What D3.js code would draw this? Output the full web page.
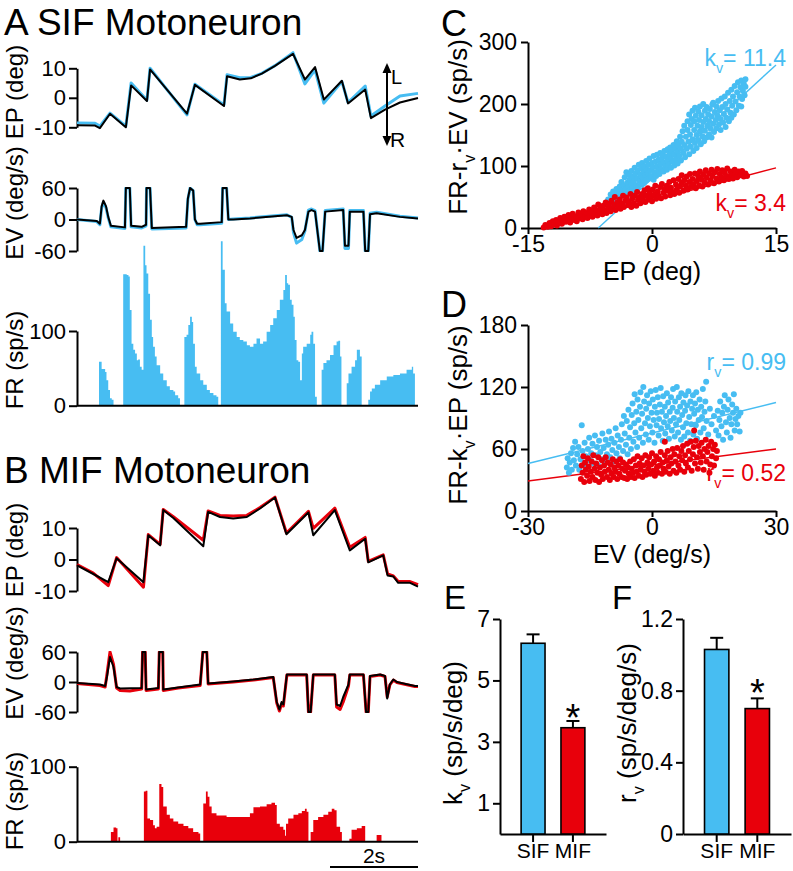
<!DOCTYPE html>
<html><head><meta charset="utf-8">
<script src="https://cdn.jsdelivr.net/npm/d3@7"></script>
<style>body{margin:0;background:#fff}</style>
</head><body>
<script>
// ---------------- DATA ----------------
// time in s, eye position in deg, eye velocity in deg/s, firing rate in sp/s
const epSif = [[0,-9.3],[0.41,-9.4],[0.52,-10.3],[0.75,-5.4],[1.11,-10.0],[1.23,4.2],[1.59,-1.1],[1.66,9.6],[2.5,-5.4],[2.68,4.4],[3.34,-2.8],[3.41,7.3],[3.7,6.2],[3.95,6.6],[4.2,8.2],[4.5,10.8],[4.91,14.9],[5.18,6.2],[5.41,10.4],[5.61,-0.6],[6.02,5.8],[6.16,-1.9],[6.55,2.8],[6.68,-6.9],[7.0,-4.0],[7.34,-1.6],[7.75,-0.1]];
const epSifFit = [[0,-8.5],[0.41,-8.6],[0.52,-9.6],[0.75,-5.2],[1.11,-9.6],[1.23,5.0],[1.59,-0.8],[1.66,10.0],[2.5,-5.8],[2.68,4.6],[3.34,-2.4],[3.41,7.8],[3.7,6.8],[3.95,6.9],[4.2,8.3],[4.5,10.9],[4.91,15.3],[5.18,4.7],[5.41,9.5],[5.61,-1.8],[6.02,5.5],[6.16,-1.6],[6.55,4.0],[6.68,-6.2],[7.0,-2.8],[7.34,0.6],[7.75,1.5]];
const evSif = [[0,0],[0.45,-3],[0.52,-8],[0.56,25],[0.60,36],[0.66,25],[0.71,5],[0.77,-12],[1.09,-15],[1.11,60],[1.20,60],[1.23,-12],[1.47,-14],[1.57,-10],[1.58,60],[1.66,60],[1.70,-16],[2.48,-14],[2.52,40],[2.57,60],[2.64,55],[2.68,0],[2.73,-8],[2.80,-8],[3.29,-5],[3.31,60],[3.40,60],[3.44,0],[3.55,0],[3.93,2],[4.77,8],[4.88,5],[4.92,-20],[4.99,-35],[5.11,-30],[5.18,-20],[5.26,15],[5.33,18],[5.41,15],[5.52,-60],[5.58,-60],[5.64,15],[6.05,18],[6.09,-50],[6.17,-50],[6.20,15],[6.51,15],[6.55,-60],[6.62,-60],[6.66,10],[6.81,12],[7.34,5],[7.75,2]];
const evSifFit = [[0,0],[0.45,-4],[0.52,-10],[0.56,22],[0.60,33],[0.66,22],[0.71,3],[0.77,-14],[1.09,-17],[1.11,60],[1.20,60],[1.23,-14],[1.47,-16],[1.57,-12],[1.58,60],[1.66,60],[1.70,-18],[2.48,-16],[2.52,38],[2.57,60],[2.64,55],[2.68,0],[2.73,-10],[2.80,-10],[3.29,-7],[3.31,60],[3.40,60],[3.44,0],[3.55,1],[3.93,3],[4.77,9],[4.88,4],[4.92,-25],[4.99,-45],[5.11,-38],[5.18,-22],[5.26,18],[5.33,20],[5.41,17],[5.52,-60],[5.58,-60],[5.64,17],[6.05,20],[6.09,-55],[6.17,-55],[6.20,17],[6.51,17],[6.55,-60],[6.62,-60],[6.66,12],[6.81,14],[7.34,6],[7.75,3]];
const frSif = [[0,0],
 [0.50,59],[0.56,49],[0.64,45],[0.67,34],[0.71,21],[0.75,10],[0.79,8],[0.83,0],
 [1.05,176],[1.13,175],[1.17,173],[1.20,128],[1.24,83],[1.28,75],[1.32,70],[1.36,61],[1.39,62],[1.43,52],[1.47,48],[1.51,214],[1.55,188],[1.58,177],[1.62,150],[1.66,115],[1.70,92],[1.73,79],[1.77,66],[1.81,54],[1.89,43],[1.96,34],[2.04,26],[2.11,21],[2.19,19],[2.23,14],[2.30,10],[2.34,0],
 [2.44,92],[2.49,95],[2.53,108],[2.57,119],[2.61,112],[2.64,83],[2.68,52],[2.72,43],[2.80,34],[2.87,28],[2.95,21],[3.02,17],[3.10,14],[3.17,12],[3.21,0],
 [3.27,220],[3.31,182],[3.36,137],[3.40,126],[3.48,110],[3.55,99],[3.63,92],[3.70,88],[3.78,86],[3.86,81],[3.93,79],[4.01,83],[4.08,90],[4.16,83],[4.23,86],[4.31,99],[4.39,108],[4.46,117],[4.54,128],[4.61,142],[4.69,155],[4.73,175],[4.77,164],[4.80,162],[4.84,142],[4.88,135],[4.92,119],[4.95,88],[4.99,61],[5.03,59],[5.07,34],[5.11,70],[5.14,79],[5.22,83],[5.30,95],[5.33,99],[5.37,83],[5.41,12],[5.45,0],
 [5.56,48],[5.60,57],[5.67,61],[5.75,68],[5.83,81],[5.90,86],[5.94,87],[5.98,66],[6.01,0],
 [6.13,30],[6.17,43],[6.24,52],[6.32,61],[6.36,75],[6.39,75],[6.43,66],[6.47,0],
 [6.62,8],[6.66,19],[6.70,23],[6.77,28],[6.89,34],[7.04,39],[7.19,41],[7.34,43],[7.49,48],[7.61,52],[7.64,43],[7.68,0]];

const epMif = [[0,-1.9],[0.37,-4.6],[0.71,-7.2],[0.90,0.4],[1.51,-7.2],[1.62,7.7],[1.89,4.5],[1.96,15.7],[2.19,13.2],[2.87,4.2],[2.98,15.1],[3.25,13.5],[3.55,13.0],[3.86,13.5],[4.16,16.2],[4.5,19.7],[4.76,8.0],[5.26,14.9],[5.37,7.7],[5.86,15.7],[6.20,2.9],[6.55,6.6],[6.62,-0.9],[6.96,1.3],[7.06,-5.1],[7.19,-5.4],[7.30,-7.4],[7.57,-7.4],[7.75,-8.6]];
const epMifFit = [[0,-1.6],[0.37,-4.3],[0.71,-8.3],[0.90,0.6],[1.51,-8.8],[1.62,7.9],[1.89,4.8],[1.96,15.9],[2.19,13.6],[2.87,6.1],[2.98,15.4],[3.25,14.0],[3.55,13.8],[3.86,14.0],[4.16,16.5],[4.5,19.8],[4.76,8.4],[5.26,15.3],[5.37,9.9],[5.86,16.3],[6.20,3.9],[6.55,7.0],[6.62,-0.6],[6.96,1.5],[7.06,-4.6],[7.19,-5.2],[7.30,-7.0],[7.57,-7.0],[7.75,-8.0]];
const evMif = [[0,-2],[0.52,-5],[0.64,-8],[0.68,10],[0.75,50],[0.83,30],[0.90,-10],[0.98,-13],[1.47,-12],[1.49,60],[1.55,60],[1.57,-15],[1.85,-12],[1.87,60],[1.95,60],[1.96,-15],[2.80,-5],[2.86,60],[2.95,60],[2.98,-3],[3.55,1],[4.01,5],[4.46,10],[4.54,-40],[4.60,-55],[4.65,-40],[4.69,-45],[4.77,15],[5.22,15],[5.26,-60],[5.31,-60],[5.37,15],[5.86,15],[5.90,-45],[5.98,-48],[6.05,-30],[6.17,-5],[6.20,15],[6.51,15],[6.57,-60],[6.62,-60],[6.66,12],[6.89,15],[7.0,12],[7.05,-33],[7.11,-5],[7.19,5],[7.27,0],[7.42,-3],[7.68,-8],[7.75,-8]];
const evMifFit = [[0,-3],[0.52,-7],[0.64,-10],[0.68,15],[0.75,60],[0.83,35],[0.90,-12],[0.98,-17],[1.2,-18],[1.47,-14],[1.49,60],[1.55,60],[1.57,-17],[1.85,-14],[1.87,60],[1.95,60],[1.96,-17],[2.3,-12],[2.80,-7],[2.86,60],[2.95,60],[2.98,-4],[3.55,0],[4.01,4],[4.46,9],[4.54,-42],[4.60,-58],[4.65,-44],[4.69,-48],[4.77,14],[5.22,14],[5.26,-60],[5.31,-60],[5.37,14],[5.86,14],[5.90,-50],[5.98,-55],[6.05,-40],[6.17,-8],[6.20,14],[6.51,14],[6.57,-60],[6.62,-60],[6.66,11],[6.89,14],[7.0,11],[7.05,-30],[7.11,-6],[7.19,4],[7.27,-1],[7.42,-4],[7.68,-9],[7.75,-9]];
const frMif = [[0,0],
 [0.77,13],[0.83,19],[0.89,18],[0.92,0],[0.94,6],[0.98,0],
 [1.52,67],[1.56,68],[1.60,31],[1.66,29],[1.73,22],[1.77,18],[1.81,20],[1.87,77],[1.92,73],[1.96,47],[2.04,36],[2.11,31],[2.19,27],[2.30,24],[2.42,21],[2.53,18],[2.64,13],[2.76,11],[2.80,0],
 [2.87,51],[2.93,67],[2.97,60],[3.01,47],[3.06,38],[3.17,35],[3.40,33],[3.70,33],[3.93,38],[4.01,46],[4.16,47],[4.31,50],[4.42,52],[4.50,49],[4.54,24],[4.61,20],[4.69,16],[4.73,8],[4.75,24],[4.80,31],[4.92,36],[5.03,38],[5.11,41],[5.18,44],[5.22,40],[5.26,0],
 [5.31,13],[5.37,29],[5.48,33],[5.60,36],[5.71,40],[5.79,44],[5.85,42],[5.90,20],[5.98,13],[6.02,0],
 [6.19,4],[6.24,16],[6.36,18],[6.47,21],[6.55,0],
 [6.81,9],[6.92,0]];

const epTicks = [-10,0,10], evTicks = [-60,0,60], frTicks = [0,100];
const scaleBar = {start:5.75, length:2, label:"2s"};

// Panel C: EP (deg) vs FR - r_v·EV (sp/s)
const sifC = [[-5.3,46],[-5.2,41],[-5.0,54],[-4.9,48],[-4.8,37],[-4.7,59],[-4.5,51],[-4.4,44],[-4.3,63],[-4.2,56],[-4.0,49],[-3.9,67],[-3.9,58],[-3.7,52],[-3.7,74],[-3.6,61],[-3.4,55],[-3.4,69],[-3.3,82],[-3.2,62],[-3.1,90],[-3.0,57],[-3.0,73],[-2.9,66],[-2.8,86],[-2.7,61],[-2.7,78],[-2.5,70],[-2.5,92],[-2.4,64],[-2.3,83],[-2.2,75],[-2.1,60],[-2.1,97],[-2.0,88],[-1.9,69],[-1.8,80],[-1.7,93],[-1.7,65],[-1.6,102],[-1.5,76],[-1.4,86],[-1.3,70],[-1.3,96],[-1.2,105],[-1.1,81],[-1.0,90],[-1.0,73],[-0.9,99],[-0.8,85],[-0.7,108],[-0.7,77],[-0.6,94],[-0.5,88],[-0.4,102],[-0.3,80],[-0.3,112],[-0.2,93],[-0.1,84],[0.0,105],[0.1,98],[0.2,78],[0.2,116],[0.3,90],[0.4,107],[0.5,84],[0.6,99],[0.6,118],[0.7,92],[0.8,110],[0.9,87],[1.0,103],[1.0,121],[1.1,95],[1.2,113],[1.3,118],[1.4,91],[1.4,106],[1.5,124],[1.6,99],[1.7,115],[1.8,94],[1.9,109],[1.9,127],[2.0,102],[2.1,119],[2.2,130],[2.3,97],[2.3,112],[2.4,125],[2.5,107],[2.6,134],[2.7,101],[2.7,119],[2.8,128],[2.9,111],[3.0,140],[3.1,104],[3.1,123],[3.2,133],[3.3,116],[3.4,147],[3.5,109],[3.5,128],[3.6,139],[3.7,156],[3.8,121],[3.9,134],[3.9,165],[4.0,114],[4.1,147],[4.2,128],[4.3,172],[4.3,158],[4.4,139],[4.5,119],[4.5,183],[4.6,151],[4.7,166],[4.7,131],[4.8,176],[4.9,143],[4.9,189],[5.0,124],[5.1,158],[5.1,172],[5.2,137],[5.2,194],[5.3,181],[5.4,150],[5.4,129],[5.5,165],[5.6,188],[5.6,142],[5.7,174],[5.8,156],[5.8,196],[5.9,135],[6.0,182],[6.0,163],[6.1,148],[6.2,200],[6.2,171],[6.3,140],[6.4,189],[6.4,157],[6.5,176],[6.6,146],[6.6,195],[6.7,165],[6.8,183],[6.9,151],[6.9,172],[7.0,192],[7.1,160],[7.2,146],[7.2,180],[7.3,199],[7.4,168],[7.4,202],[7.5,155],[7.6,187],[7.7,174],[7.8,161],[7.8,196],[7.9,182],[8.0,205],[8.1,167],[8.2,190],[8.3,158],[8.3,176],[8.4,209],[8.5,195],[8.6,170],[8.7,184],[8.8,212],[8.9,163],[8.9,200],[9.0,178],[9.1,191],[9.2,218],[9.3,172],[9.4,205],[9.5,186],[9.6,178],[9.6,223],[9.7,197],[9.8,212],[9.9,183],[10.0,229],[10.1,204],[10.2,190],[10.3,219],[10.4,235],[10.5,197],[10.6,212],[10.7,227],[10.8,196],[10.8,238],[10.9,208],[11.0,221],[11.1,233],[11.2,214],[11.3,228],[11.3,240]];
const mifC = [[-13.1,1],[-12.9,5],[-12.6,2],[-12.4,8],[-12.2,3],[-12.0,11],[-11.8,6],[-11.6,13],[-11.5,4],[-11.3,9],[-11.1,16],[-10.9,7],[-10.8,12],[-10.6,18],[-10.4,10],[-10.2,14],[-10.1,21],[-9.9,9],[-9.7,17],[-9.6,23],[-9.4,13],[-9.2,19],[-9.1,11],[-8.9,25],[-8.8,16],[-8.6,21],[-8.4,14],[-8.3,27],[-8.1,19],[-7.9,24],[-7.8,16],[-7.6,30],[-7.5,21],[-7.3,26],[-7.2,18],[-7.0,33],[-6.9,23],[-6.7,29],[-6.6,20],[-6.5,38],[-6.3,26],[-6.2,32],[-6.0,22],[-5.9,36],[-5.7,28],[-5.6,41],[-5.5,24],[-5.3,33],[-5.2,39],[-5.0,27],[-4.9,44],[-4.8,31],[-4.6,37],[-4.5,50],[-4.4,29],[-4.2,41],[-4.1,35],[-3.9,46],[-3.8,31],[-3.6,39],[-3.5,52],[-3.4,34],[-3.2,44],[-3.1,49],[-2.9,37],[-2.8,42],[-2.6,55],[-2.5,34],[-2.4,47],[-2.2,40],[-2.1,52],[-1.9,36],[-1.8,58],[-1.7,45],[-1.5,50],[-1.4,40],[-1.2,55],[-1.1,47],[-0.9,61],[-0.8,42],[-0.7,52],[-0.5,64],[-0.4,46],[-0.3,57],[-0.1,50],[0.0,43],[0.1,62],[0.3,54],[0.4,68],[0.5,47],[0.7,59],[0.8,52],[1.0,66],[1.1,48],[1.2,71],[1.4,57],[1.5,63],[1.6,51],[1.8,68],[1.9,60],[2.1,74],[2.2,53],[2.3,65],[2.5,58],[2.6,77],[2.7,55],[2.9,70],[3.0,62],[3.2,79],[3.3,57],[3.4,67],[3.6,85],[3.6,73],[3.8,60],[3.9,77],[4.1,68],[4.2,83],[4.3,62],[4.5,74],[4.6,87],[4.7,66],[4.9,79],[5.0,70],[5.2,88],[5.3,64],[5.4,76],[5.6,83],[5.7,69],[5.8,91],[6.0,78],[6.1,67],[6.2,86],[6.4,73],[6.5,93],[6.6,81],[6.8,70],[6.9,88],[7.1,77],[7.2,94],[7.3,84],[7.5,72],[7.6,90],[7.8,80],[7.9,95],[8.1,75],[8.2,87],[8.4,82],[8.5,93],[8.7,77],[8.8,89],[9.0,84],[9.1,96],[9.3,79],[9.5,91],[9.6,86],[9.8,80],[10.0,94],[10.1,87],[10.3,82],[10.5,91],[10.7,85],[10.9,92],[11.1,83],[11.3,88],[11.5,84]];
const fitCSif = [[-6.5,0],[15,263]], fitCMif = [[-12.6,0],[15,97]];
const kvLabels = ["11.4","3.4"];

// Panel D: EV (deg/s) vs FR - k_v·EP (sp/s)
const sifD = [[-20.6,42],[-20.4,51],[-20.1,37],[-19.9,47],[-19.6,56],[-19.4,40],[-19.1,61],[-18.9,49],[-18.6,67],[-18.4,44],[-18.1,55],[-17.8,62],[-17.6,40],[-17.3,50],[-17.0,83],[-16.8,58],[-16.5,45],[-16.3,66],[-16.0,53],[-15.7,43],[-15.5,60],[-15.2,71],[-15.0,49],[-14.7,56],[-14.4,65],[-14.1,46],[-13.8,73],[-13.6,54],[-13.3,62],[-13.0,44],[-12.8,68],[-12.5,57],[-12.2,50],[-12.0,75],[-11.7,61],[-11.4,47],[-11.2,69],[-10.9,55],[-10.6,64],[-10.4,77],[-10.1,52],[-9.8,70],[-9.6,59],[-9.3,48],[-9.1,66],[-8.8,80],[-8.6,56],[-8.3,73],[-8.0,62],[-7.8,51],[-7.5,69],[-7.3,84],[-7.0,58],[-6.8,92],[-6.6,75],[-6.3,64],[-6.1,87],[-5.9,55],[-5.7,98],[-5.5,71],[-5.3,81],[-5.1,60],[-4.9,93],[-4.7,104],[-4.5,67],[-4.3,85],[-4.2,113],[-4.0,76],[-3.8,96],[-3.6,62],[-3.5,108],[-3.3,88],[-3.1,71],[-2.9,101],[-2.8,115],[-2.6,80],[-2.4,94],[-2.2,66],[-2.1,120],[-1.9,106],[-1.7,85],[-1.5,74],[-1.4,99],[-1.2,112],[-1.0,90],[-0.8,69],[-0.7,104],[-0.5,82],[-0.3,116],[-0.1,95],[0.1,76],[0.2,108],[0.4,88],[0.6,66],[0.7,101],[0.9,117],[1.1,83],[1.2,95],[1.4,110],[1.6,73],[1.7,89],[1.9,103],[2.1,119],[2.2,80],[2.4,96],[2.6,68],[2.7,111],[2.9,86],[3.1,101],[3.2,75],[3.4,92],[3.6,114],[3.8,82],[3.9,105],[4.1,70],[4.3,96],[4.4,87],[4.6,110],[4.8,78],[5.0,100],[5.1,118],[5.3,90],[5.5,72],[5.6,106],[5.8,84],[6.0,120],[6.1,96],[6.3,76],[6.5,110],[6.6,88],[6.8,101],[7.0,69],[7.1,114],[7.3,93],[7.5,81],[7.6,105],[7.8,72],[8.0,97],[8.1,112],[8.3,85],[8.5,102],[8.7,76],[8.8,116],[9.0,91],[9.2,68],[9.3,106],[9.5,84],[9.7,99],[9.9,112],[10.0,74],[10.2,94],[10.4,104],[10.6,83],[10.7,115],[10.9,70],[11.1,98],[11.3,88],[11.5,108],[11.7,76],[11.9,101],[12.1,91],[12.3,118],[12.5,80],[12.7,96],[12.9,106],[13.1,125],[13.2,87],[13.6,74],[14.0,99],[14.4,84],[15.0,92],[15.5,78],[15.9,97],[16.1,73],[16.3,88],[16.5,106],[16.8,82],[17.0,95],[17.2,69],[17.4,101],[17.6,112],[17.9,86],[18.1,76],[18.3,98],[18.5,108],[18.8,90],[19.0,71],[19.2,84],[19.4,103],[19.6,95],[19.8,113],[20.0,78],[20.2,89],[20.4,99],[20.6,84],[20.9,92],[21.2,77],[21.4,95]];
const mifD = [[-17.2,31],[-17.0,44],[-16.8,37],[-16.6,53],[-16.4,28],[-16.2,47],[-16.0,40],[-15.7,34],[-15.5,51],[-15.3,43],[-15.1,29],[-14.8,38],[-14.6,48],[-14.4,33],[-14.2,54],[-13.9,41],[-13.7,30],[-13.5,46],[-13.2,37],[-13.0,52],[-12.8,28],[-12.6,42],[-12.3,35],[-12.1,49],[-11.9,31],[-11.6,44],[-11.4,38],[-11.2,52],[-10.9,33],[-10.7,47],[-10.5,40],[-10.2,30],[-10.0,45],[-9.8,36],[-9.5,50],[-9.3,33],[-9.1,42],[-8.8,38],[-8.6,48],[-8.4,31],[-8.1,44],[-7.9,36],[-7.7,50],[-7.4,33],[-7.2,41],[-7.0,47],[-6.7,32],[-6.5,39],[-6.3,45],[-6.0,31],[-5.8,42],[-5.6,36],[-5.3,48],[-5.1,33],[-4.9,41],[-4.6,37],[-4.4,50],[-4.2,32],[-3.9,44],[-3.7,38],[-3.5,53],[-3.2,34],[-3.0,46],[-2.8,40],[-2.5,51],[-2.3,33],[-2.1,44],[-1.8,38],[-1.6,54],[-1.4,35],[-1.1,47],[-0.9,41],[-0.7,52],[-0.4,36],[-0.2,45],[0.0,56],[0.3,39],[0.5,48],[0.7,34],[1.0,53],[1.2,42],[1.4,37],[1.7,50],[1.9,44],[2.1,57],[2.4,36],[2.6,47],[2.8,41],[3.1,67],[3.1,54],[3.3,38],[3.6,49],[3.8,58],[4.0,43],[4.3,36],[4.5,52],[4.7,46],[5.0,60],[5.2,39],[5.4,55],[5.7,48],[5.9,37],[6.1,61],[6.4,44],[6.6,53],[6.8,40],[7.1,58],[7.3,49],[7.5,63],[7.8,38],[8.0,54],[8.2,46],[8.5,65],[8.7,42],[8.9,58],[9.2,50],[9.4,67],[9.6,39],[9.9,55],[10.1,62],[10.2,78],[10.4,46],[10.6,68],[10.9,52],[11.1,41],[11.3,63],[11.6,57],[11.8,47],[12.0,66],[12.3,53],[12.5,40],[12.7,60],[13.0,69],[13.2,48],[13.4,57],[13.7,63],[13.9,37],[14.1,45],[14.3,67],[14.5,53],[14.8,60],[15.0,44],[15.2,64],[15.5,51],[15.7,58]];
const fitDSif = [[-30,46],[30,105]], fitDMif = [[-30,29],[30,60]];
const rvLabels = ["0.99","0.52"];

// Panels E, F: population means ± SEM
const groups = ["SIF","MIF"];
const kvMean = [6.21,3.46], kvSem = [0.29,0.22];
const rvMean = [1.03,0.70], rvSem = [0.065,0.057];
const kvTicks = [1,3,5,7], rvTicks = [0,0.4,0.8,1.2];

// ---------------- DRAWING ----------------
const FONT = '"Liberation Sans", Arial, Helvetica, sans-serif';
const BLUE = "#47bdf2", RED = "#e8000b", BLACK = "#000";
const svg = d3.select("body").append("svg").attr("width",793).attr("height",871)
  .style("font-family", FONT);

function styleAxis(g, fs){
  g.attr("font-family", FONT).attr("font-size", fs);
  g.selectAll(".domain").attr("stroke","#000").attr("stroke-width",2);
  g.selectAll(".tick line").attr("stroke","#000").attr("stroke-width",2);
  g.selectAll(".tick text").attr("fill","#000");
}
function richText(x, y, parts, fs, opts={}){
  const t = svg.append("text").attr("font-size", fs).attr("fill", opts.fill||"#000")
    .attr("text-anchor", opts.anchor||"start");
  if (opts.rotate) t.attr("transform",`translate(${x},${y}) rotate(-90)`);
  else t.attr("x",x).attr("y",y);
  const s = fs*0.3;
  let inSub = false;
  parts.forEach(p=>{
    const sp = t.append("tspan").text(p.t);
    if (p.sub){ sp.attr("font-size", fs*0.62).attr("dy", inSub?0:s); inSub = true; }
    else { if (inSub) sp.attr("dy", -s); inSub = false; }
  });
  return t;
}
const fmt = d => String(d);

const tx = d3.scaleLinear().domain([0,7.75]).range([77,418]);
const line = (xs, ys) => d3.line().x(d=>xs(d[0])).y(d=>ys(d[1]));

function tracePanel(cfg){
  const yEP = d3.scaleLinear().domain([-10,10]).range(cfg.ep);
  const yEV = d3.scaleLinear().domain([-60,60]).range(cfg.ev);
  const yFR = d3.scaleLinear().domain([0,100]).range(cfg.fr);
  [[yEP, epTicks],[yEV, evTicks],[yFR, frTicks]].forEach(([ys,tk])=>{
    const g = svg.append("g").attr("transform","translate(77,0)")
      .call(d3.axisLeft(ys).tickValues(tk).tickSize(8).tickSizeOuter(0).tickPadding(3).tickFormat(fmt));
    styleAxis(g, 22);
  });
  svg.append("path").datum(cfg.epFit).attr("d", line(tx,yEP)).attr("fill","none").attr("stroke",cfg.color).attr("stroke-width",3).attr("stroke-linejoin","round");
  svg.append("path").datum(cfg.epData).attr("d", line(tx,yEP)).attr("fill","none").attr("stroke",BLACK).attr("stroke-width",2).attr("stroke-linejoin","round");
  const cid = "clip"+cfg.id;
  svg.append("clipPath").attr("id",cid).append("rect")
    .attr("x",77).attr("y",yEV(60)-1).attr("width",345).attr("height",yEV(-60)-yEV(60)+2);
  const ge = svg.append("g").attr("clip-path",`url(#${cid})`);
  ge.append("path").datum(cfg.evFit).attr("d", line(tx,yEV)).attr("fill","none").attr("stroke",cfg.color).attr("stroke-width",3).attr("stroke-linejoin","round");
  ge.append("path").datum(cfg.evData).attr("d", line(tx,yEV)).attr("fill","none").attr("stroke",BLACK).attr("stroke-width",2).attr("stroke-linejoin","round");
  svg.append("path").datum(cfg.fr_).attr("d", d3.area().curve(d3.curveStepAfter)
      .x(d=>tx(d[0])).y0(yFR(0)).y1(d=>yFR(d[1]))).attr("fill",cfg.color);
  svg.append("line").attr("x1",tx(0)).attr("x2",tx(7.75)).attr("y1",yFR(0)).attr("y2",yFR(0))
    .attr("stroke","#000").attr("stroke-width",2);
  svg.append("text").attr("x",4).attr("y",cfg.titleY).attr("font-size",37).text(cfg.title);
  const lab = (cy, s) => svg.append("text").attr("transform",`translate(23,${cy}) rotate(-90)`)
     .attr("text-anchor","middle").attr("font-size",24).text(s);
  lab(cfg.labEP,"EP (deg)"); lab(cfg.labEV,"EV (deg/s)"); lab(cfg.labFR,"FR (sp/s)");
}

tracePanel({id:"A", ep:[127.3,68.3], ev:[251,188], fr:[405.7,331], color:BLUE,
  epData:epSif, epFit:epSifFit, evData:evSif, evFit:evSifFit, fr_:frSif,
  title:"A SIF Motoneuron", titleY:35, labEP:92, labEV:203, labFR:360});
tracePanel({id:"B", ep:[591,528], ev:[712,652], fr:[841.7,766.7], color:RED,
  epData:epMif, epFit:epMifFit, evData:evMif, evFit:evMifFit, fr_:frMif,
  title:"B MIF Motoneuron", titleY:483, labEP:550, labEV:663, labFR:801});

// L/R arrow
{
  const ax = 387;
  svg.append("line").attr("x1",ax).attr("x2",ax).attr("y1",70).attr("y2",139).attr("stroke","#000").attr("stroke-width",2);
  svg.append("path").attr("d",`M${ax},63 L${ax-4.5},73 L${ax+4.5},73 Z`).attr("fill","#000");
  svg.append("path").attr("d",`M${ax},146 L${ax-4.5},136 L${ax+4.5},136 Z`).attr("fill","#000");
  svg.append("text").attr("x",391).attr("y",84).attr("font-size",20).text("L");
  svg.append("text").attr("x",390).attr("y",147).attr("font-size",21).text("R");
}
// scale bar
svg.append("line").attr("x1",tx(scaleBar.start)).attr("x2",tx(scaleBar.start+scaleBar.length))
  .attr("y1",867).attr("y2",867).attr("stroke","#000").attr("stroke-width",2);
svg.append("text").attr("x",(tx(scaleBar.start)+tx(scaleBar.start+scaleBar.length))/2).attr("y",863)
  .attr("text-anchor","middle").attr("font-size",21).text(scaleBar.label);

function scatterPanel(cfg){
  const xs = d3.scaleLinear().domain(cfg.xd).range([528,776]);
  const ys = d3.scaleLinear().domain(cfg.yd).range(cfg.yr);
  const gy = svg.append("g").attr("transform","translate(528,0)")
    .call(d3.axisLeft(ys).tickValues(cfg.yt).tickSize(7).tickSizeOuter(0).tickPadding(4).tickFormat(fmt));
  styleAxis(gy, 23);
  const gx = svg.append("g").attr("transform",`translate(0,${cfg.yr[0]})`)
    .call(d3.axisBottom(xs).tickValues(cfg.xt).tickSize(6).tickSizeOuter(0).tickPadding(2).tickFormat(fmt));
  styleAxis(gx, 23);
  const L = line(xs, ys);
  svg.append("path").datum(cfg.fitS).attr("d",L).attr("stroke",BLUE).attr("stroke-width",1.4).attr("fill","none");
  svg.append("path").datum(cfg.fitM).attr("d",L).attr("stroke",RED).attr("stroke-width",1.4).attr("fill","none");
  svg.append("g").selectAll("circle").data(cfg.s).join("circle")
    .attr("cx",d=>xs(d[0])).attr("cy",d=>ys(d[1])).attr("r",3).attr("fill",BLUE);
  svg.append("g").selectAll("circle").data(cfg.m).join("circle")
    .attr("cx",d=>xs(d[0])).attr("cy",d=>ys(d[1])).attr("r",3).attr("fill",RED);
  svg.append("text").attr("x",652).attr("y",cfg.yr[0]+52).attr("text-anchor","middle").attr("font-size",25).text(cfg.xlab);
  richText(467, cfg.ylabY, cfg.ylab, 26, {rotate:true, anchor:"middle"});
  svg.append("text").attr("x",441).attr("y",cfg.letterY).attr("font-size",36).text(cfg.letter);
  richText(786, cfg.l1Y, [{t:cfg.sym},{t:"v",sub:true},{t:"= "+cfg.labs[0]}], 23, {anchor:"end", fill:BLUE});
  richText(786, cfg.l2Y, [{t:cfg.sym},{t:"v",sub:true},{t:"= "+cfg.labs[1]}], 23, {anchor:"end", fill:RED});
}
scatterPanel({xd:[-15,15], yd:[0,300], yr:[228,42], xt:[-15,0,15], yt:[0,100,200,300],
  fitS:fitCSif, fitM:fitCMif, s:sifC, m:mifC, xlab:"EP (deg)",
  ylab:[{t:"FR-r"},{t:"v",sub:true},{t:"·EV (sp/s)"}], ylabY:127, letter:"C", letterY:36,
  sym:"k", labs:kvLabels, l1Y:66, l2Y:211});
scatterPanel({xd:[-30,30], yd:[0,180], yr:[511,325], xt:[-30,0,30], yt:[0,60,120,180],
  fitS:fitDSif, fitM:fitDMif, s:sifD, m:mifD, xlab:"EV (deg/s)",
  ylab:[{t:"FR-k"},{t:"v",sub:true},{t:"·EP (sp/s)"}], ylabY:415, letter:"D", letterY:317,
  sym:"r", labs:rvLabels, l1Y:370, l2Y:481});

function barPanel(cfg){
  const ys = d3.scaleLinear().domain(cfg.yd).range([834,619]);
  const xb = d3.scaleBand().domain(groups).range(cfg.xr).paddingInner(0.4).paddingOuter(0.53);
  const gy = svg.append("g").attr("transform",`translate(${cfg.xr[0]},0)`)
    .call(d3.axisLeft(ys).tickValues(cfg.yt).tickSize(7).tickSizeOuter(0).tickPadding(3).tickFormat(fmt));
  styleAxis(gy, 23);
  const gx = svg.append("g").attr("transform","translate(0,834)")
    .call(d3.axisBottom(xb).tickSize(8).tickSizeOuter(0).tickPadding(1));
  styleAxis(gx, 21);
  const bars = svg.append("g");
  groups.forEach((gname,i)=>{
    const cx = xb(gname)+xb.bandwidth()/2;
    const top = ys(cfg.mean[i]+cfg.sem[i]);
    bars.append("line").attr("x1",cx).attr("x2",cx).attr("y1",ys(cfg.mean[i])).attr("y2",top).attr("stroke","#000").attr("stroke-width",2);
    bars.append("line").attr("x1",cx-6.5).attr("x2",cx+6.5).attr("y1",top).attr("y2",top).attr("stroke","#000").attr("stroke-width",2);
    bars.append("rect").attr("x",xb(gname)).attr("width",xb.bandwidth())
      .attr("y",ys(cfg.mean[i])).attr("height",ys(0)-ys(cfg.mean[i]))
      .attr("fill", i===0?BLUE:RED).attr("stroke","#000").attr("stroke-width",1.6);
    if (i===1) svg.append("text").attr("x",cx).attr("y",top+cfg.starOff).attr("text-anchor","middle").attr("font-size",38).text("*");
  });
  richText(cfg.labX, cfg.labY, cfg.ylab, 26, {rotate:true, anchor:"middle"});
  svg.append("text").attr("x",cfg.letterX).attr("y",609).attr("font-size",33).text(cfg.letter);
}
barPanel({yd:[0,7], yt:kvTicks, xr:[500,606], mean:kvMean, sem:kvSem,
  ylab:[{t:"k"},{t:"v",sub:true},{t:" (sp/s/deg)"}], labX:462, labY:733, letter:"E", letterX:444, starOff:10});
barPanel({yd:[0,1.2], yt:rvTicks, xr:[683,791], mean:rvMean, sem:rvSem,
  ylab:[{t:"r"},{t:"v",sub:true},{t:" (sp/s/deg/s)"}], labX:636, labY:723, letter:"F", letterX:612, starOff:8});
</script>
</body></html>
